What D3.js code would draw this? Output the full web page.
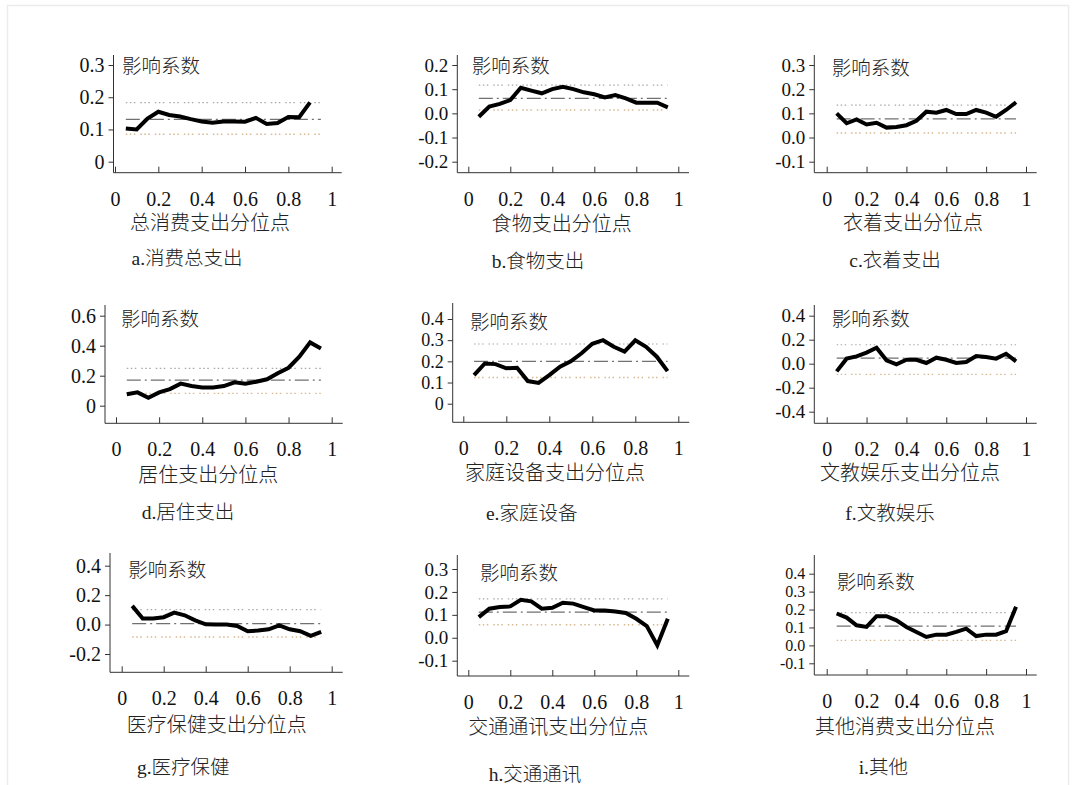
<!DOCTYPE html>
<html>
<head>
<meta charset="utf-8">
<script src="https://cdn.jsdelivr.net/npm/d3@7"></script>
<style>
  body { margin: 0; background: #fff; }
</style>
</head>
<body>
<svg id="chart" width="1076" height="785"></svg>
<script>
// quantile points (x) and x-axis ticks
var quantiles = [0.05, 0.1, 0.15, 0.2, 0.25, 0.3, 0.35, 0.4, 0.45, 0.5, 0.55, 0.6, 0.65, 0.7, 0.75, 0.8, 0.85, 0.9, 0.95];
var xTicks = [0, 0.2, 0.4, 0.6, 0.8, 1];
var xTickLabels = ['0', '0.2', '0.4', '0.6', '0.8', '1'];

var titles = ['a.消费总支出', 'b.食物支出', 'c.衣着支出', 'd.居住支出', 'e.家庭设备',
              'f.文教娱乐', 'g.医疗保健', 'h.交通通讯', 'i.其他'];
var xLabels = ['总消费支出分位点', '食物支出分位点', '衣着支出分位点', '居住支出分位点', '家庭设备支出分位点',
               '文教娱乐支出分位点', '医疗保健支出分位点', '交通通讯支出分位点', '其他消费支出分位点'];

// y ticks per panel
var yTicksA = [0, 0.1, 0.2, 0.3],            yLabelsA = ['0', '0.1', '0.2', '0.3'];
var yTicksB = [-0.2, -0.1, 0, 0.1, 0.2],     yLabelsB = ['-0.2', '-0.1', '0.0', '0.1', '0.2'];
var yTicksC = [-0.1, 0, 0.1, 0.2, 0.3],      yLabelsC = ['-0.1', '0.0', '0.1', '0.2', '0.3'];
var yTicksD = [0, 0.2, 0.4, 0.6],            yLabelsD = ['0', '0.2', '0.4', '0.6'];
var yTicksE = [0, 0.1, 0.2, 0.3, 0.4],       yLabelsE = ['0', '0.1', '0.2', '0.3', '0.4'];
var yTicksF = [-0.4, -0.2, 0, 0.2, 0.4],     yLabelsF = ['-0.4', '-0.2', '0.0', '0.2', '0.4'];
var yTicksG = [-0.2, 0, 0.2, 0.4],           yLabelsG = ['-0.2', '0.0', '0.2', '0.4'];
var yTicksH = [-0.1, 0, 0.1, 0.2, 0.3],      yLabelsH = ['-0.1', '0.0', '0.1', '0.2', '0.3'];
var yTicksI = [-0.1, 0, 0.1, 0.2, 0.3, 0.4], yLabelsI = ['-0.1', '0.0', '0.1', '0.2', '0.3', '0.4'];

// quantile regression coefficients (null = no point)
var coefA = [0.103, 0.100, 0.134, 0.155, 0.145, 0.140, 0.132, 0.125, 0.121, 0.125, 0.125, 0.124, 0.136, 0.117, 0.120, 0.139, 0.138, 0.184, null];
var coefB = [-0.014, 0.028, 0.039, 0.055, 0.106, 0.094, 0.083, 0.100, 0.110, 0.100, 0.087, 0.079, 0.066, 0.076, 0.062, 0.044, 0.044, 0.044, 0.025];
var coefC = [0.100, 0.059, 0.075, 0.054, 0.061, 0.041, 0.044, 0.051, 0.069, 0.107, 0.103, 0.114, 0.097, 0.097, 0.114, 0.103, 0.086, 0.114, 0.146];
var coefD = [0.076, 0.089, 0.053, 0.089, 0.111, 0.147, 0.131, 0.122, 0.122, 0.131, 0.156, 0.147, 0.160, 0.176, 0.216, 0.253, 0.327, 0.422, 0.382];
var coefE = [0.135, 0.190, 0.187, 0.167, 0.170, 0.107, 0.098, 0.135, 0.175, 0.200, 0.238, 0.283, 0.300, 0.269, 0.246, 0.299, 0.269, 0.222, 0.154];
var coefF = [-0.064, 0.042, 0.061, 0.092, 0.133, 0.028, -0.006, 0.033, 0.033, 0.006, 0.050, 0.033, 0.006, 0.014, 0.064, 0.056, 0.042, 0.083, 0.019];
var coefG = [0.127, 0.041, 0.041, 0.050, 0.081, 0.063, 0.029, 0.002, 0.000, 0.000, -0.009, -0.045, -0.041, -0.032, -0.005, -0.032, -0.045, -0.077, -0.050];
var coefH = [0.090, 0.127, 0.134, 0.137, 0.166, 0.159, 0.127, 0.131, 0.153, 0.149, 0.134, 0.119, 0.119, 0.115, 0.108, 0.083, 0.051, -0.033, 0.083];
var coefI = [0.178, 0.155, 0.112, 0.103, 0.163, 0.163, 0.140, 0.103, 0.075, 0.047, 0.060, 0.060, 0.075, 0.093, 0.052, 0.060, 0.060, 0.079, 0.215];

// OLS estimate with upper / lower confidence bounds, per panel a..i
var olsValues   = [0.131, 0.062, 0.077, 0.171, 0.200, 0.047, 0.007, 0.112, 0.108];
var upperValues = [0.183, 0.117, 0.134, 0.249, 0.282, 0.158, 0.102, 0.170, 0.183];
var lowerValues = [0.085, 0.014, 0.019, 0.082, 0.124, -0.089, -0.084, 0.057, 0.028];

var yTicksAll  = [yTicksA, yTicksB, yTicksC, yTicksD, yTicksE, yTicksF, yTicksG, yTicksH, yTicksI];
var yLabelsAll = [yLabelsA, yLabelsB, yLabelsC, yLabelsD, yLabelsE, yLabelsF, yLabelsG, yLabelsH, yLabelsI];
var coefAll    = [coefA, coefB, coefC, coefD, coefE, coefF, coefG, coefH, coefI];

var serifFont = '"Liberation Serif", "Times New Roman", "DejaVu Serif", serif';
var cjkFont = '"Liberation Serif", "Noto Sans CJK SC", serif';

// panel frames: y-axis x, axis-line y, top/bottom tick px, x0/x1 px, axis right end, axis top,
// "影响系数" position, x-label centre, title centre, y tick font size
var frames = [
  {ax: 113.5, ay: 172.7, yt: 65,    yb: 161.7, x0: 115,   x1: 331.7, xr: 341.7, top: 55,  lx: 122,   ly: 66,  cx: 210,   cy: 223, tx: 187,   ty: 258, fs: 20},
  {ax: 457.3, ay: 172.7, yt: 65,    yb: 161.7, x0: 468.3, x1: 678.3, xr: 689,   top: 55,  lx: 471.7, ly: 66,  cx: 561.7, cy: 224, tx: 538,   ty: 261, fs: 19},
  {ax: 814.3, ay: 172.7, yt: 65,    yb: 161.7, x0: 826.7, x1: 1026,  xr: 1036.7,top: 55,  lx: 831.7, ly: 68,  cx: 913,   cy: 223, tx: 895,   ty: 260, fs: 19},
  {ax: 105,   ay: 423.3, yt: 315.7, yb: 405.7, x0: 116,   x1: 331.7, xr: 342.7, top: 305, lx: 121,   ly: 319, cx: 208.3, cy: 475, tx: 188,   ty: 512, fs: 20},
  {ax: 452.7, ay: 422.3, yt: 319,   yb: 403.7, x0: 463.3, x1: 678.3, xr: 689.3, top: 303, lx: 470,   ly: 322, cx: 555,   cy: 473, tx: 531.7, ty: 513, fs: 18},
  {ax: 814.3, ay: 423.3, yt: 315.7, yb: 411.7, x0: 826.7, x1: 1026,  xr: 1036.7,top: 305, lx: 831.7, ly: 319, cx: 910,   cy: 473, tx: 890,   ty: 513, fs: 19},
  {ax: 110,   ay: 672.3, yt: 565.7, yb: 654,   x0: 121.7, x1: 331.7, xr: 342.7, top: 553, lx: 128.3, ly: 570, cx: 216.7, cy: 725, tx: 183.3, ty: 767, fs: 20},
  {ax: 457.3, ay: 676,   yt: 569,   yb: 660.7, x0: 468.3, x1: 678.3, xr: 689.3, top: 555, lx: 480,   ly: 573, cx: 558.3, cy: 727, tx: 535,   ty: 774, fs: 19},
  {ax: 814.3, ay: 675,   yt: 573.7, yb: 663.3, x0: 826.7, x1: 1026,  xr: 1036.7,top: 555, lx: 836.7, ly: 582, cx: 905,   cy: 727, tx: 883.3, ty: 767, fs: 16}
];

var svg = d3.select('#chart');

// faint page border
svg.append('rect')
    .attr('x', 7.5).attr('y', 5.5)
    .attr('width', 1061).attr('height', 800)
    .attr('fill', 'none')
    .attr('stroke', '#ececec')
    .attr('stroke-width', 1.5);

frames.forEach(function(f, i) {
    var ticks = yTicksAll[i];
    var labels = yLabelsAll[i];
    var g = svg.append('g');

    var x = d3.scaleLinear().domain([0, 1]).range([f.x0, f.x1]);
    var y = d3.scaleLinear()
        .domain([ticks[0], ticks[ticks.length - 1]])
        .range([f.yb, f.yt]);

    // y axis
    var yAxis = d3.axisLeft(y)
        .tickValues(ticks)
        .tickFormat(function(d, k) { return labels[k]; })
        .tickSizeInner(5).tickSizeOuter(0).tickPadding(4);
    var yg = g.append('g').attr('transform', 'translate(' + f.ax + ',0)').call(yAxis);
    yg.attr('font-family', serifFont).attr('font-size', f.fs);
    yg.select('.domain').remove();
    yg.selectAll('line').attr('stroke', '#333');
    yg.selectAll('text').style('fill', '#111');

    // x axis (ticks point inwards)
    var xAxis = d3.axisBottom(x)
        .tickValues(xTicks)
        .tickFormat(function(d, k) { return xTickLabels[k]; })
        .tickSizeInner(-6).tickSizeOuter(0).tickPadding(19);
    var xg = g.append('g').attr('transform', 'translate(0,' + f.ay + ')').call(xAxis);
    xg.attr('font-family', serifFont).attr('font-size', 20);
    xg.select('.domain').remove();
    xg.selectAll('line').attr('stroke', '#333');
    xg.selectAll('text').style('fill', '#111');

    // axis lines
    g.append('line')
        .attr('x1', f.ax).attr('x2', f.ax)
        .attr('y1', f.top).attr('y2', f.ay)
        .attr('stroke', '#333').attr('stroke-width', 1);
    g.append('line')
        .attr('x1', f.ax).attr('x2', f.xr)
        .attr('y1', f.ay).attr('y2', f.ay)
        .attr('stroke', '#333').attr('stroke-width', 1);

    // reference lines: upper, OLS, lower
    var qFirst = quantiles[0], qLast = quantiles[quantiles.length - 1];
    var refs = [
        {v: upperValues[i], color: '#a8a8a8', dash: '1.5,2.5,1.5,2.5,1.5,5', w: 1.2},
        {v: olsValues[i],   color: '#707070', dash: '14,4,2,4',             w: 1.2},
        {v: lowerValues[i], color: '#d8b890', dash: '1.5,2.5,1.5,2.5,1.5,5', w: 1.4}
    ];
    g.selectAll('.ref')
        .data(refs)
        .enter().append('line')
        .attr('class', 'ref')
        .attr('x1', x(qFirst)).attr('x2', x(qLast))
        .attr('y1', function(d) { return y(d.v); })
        .attr('y2', function(d) { return y(d.v); })
        .attr('stroke', function(d) { return d.color; })
        .attr('stroke-width', function(d) { return d.w; })
        .attr('stroke-dasharray', function(d) { return d.dash; });

    // quantile regression curve
    var pts = quantiles.map(function(q, k) { return {q: q, v: coefAll[i][k]}; })
        .filter(function(d) { return d.v !== null; });
    var line = d3.line()
        .x(function(d) { return x(d.q); })
        .y(function(d) { return y(d.v); });
    g.append('path')
        .datum(pts)
        .attr('d', line)
        .attr('fill', 'none')
        .attr('stroke', '#000')
        .attr('stroke-width', 4)
        .attr('stroke-linejoin', 'miter');

    // texts
    g.append('text')
        .attr('x', f.lx).attr('y', f.ly)
        .attr('dy', '0.35em')
        .attr('font-family', cjkFont)
        .attr('font-size', 19.5)
        .attr('font-weight', 300)
        .style('fill', '#222')
        .text('影响系数');
    g.append('text')
        .attr('x', f.cx).attr('y', f.cy)
        .attr('dy', '0.35em')
        .attr('text-anchor', 'middle')
        .attr('font-family', cjkFont)
        .attr('font-size', 20)
        .attr('font-weight', 300)
        .style('fill', '#222')
        .text(xLabels[i]);
    g.append('text')
        .attr('x', f.tx).attr('y', f.ty)
        .attr('dy', '0.35em')
        .attr('text-anchor', 'middle')
        .attr('font-family', cjkFont)
        .attr('font-size', 19.5)
        .attr('font-weight', 300)
        .style('fill', '#222')
        .text(titles[i]);
});
</script>
</body>
</html>
